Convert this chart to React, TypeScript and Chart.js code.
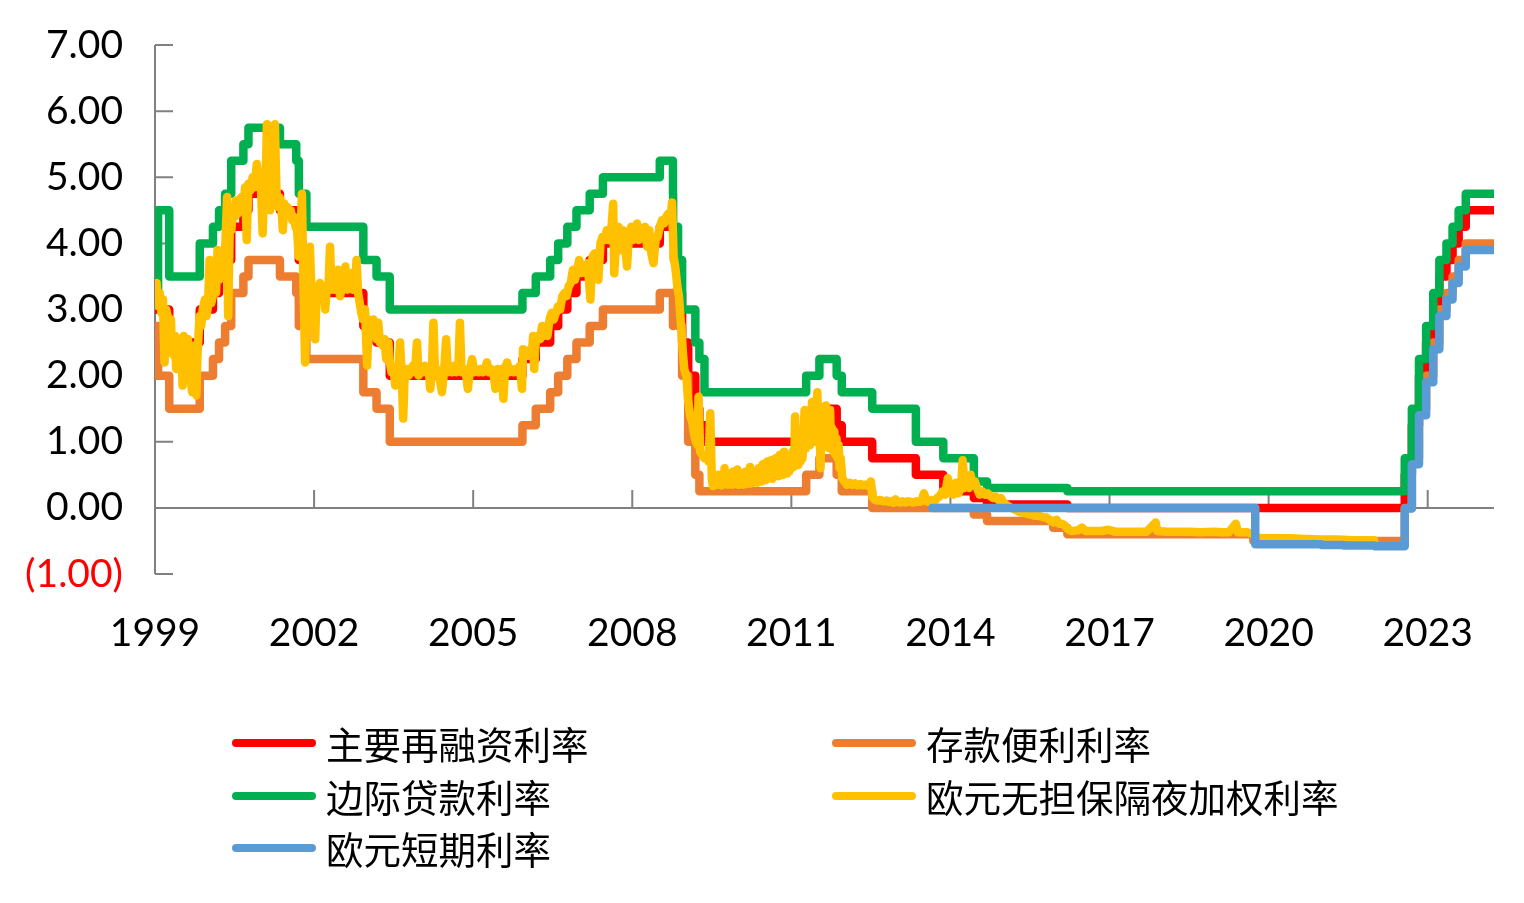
import React, { useEffect, useRef } from "react";
import { Chart, registerables } from "chart.js";

Chart.register(...registerables);

// ---------- axes ----------
const X_MIN = 1999;
const X_MAX = 2024.25;
const Y_MIN = -1;
const Y_MAX = 7;
const X_TICKS = [1999, 2002, 2005, 2008, 2011, 2014, 2017, 2020, 2023];
const Y_TICKS = [-1, 0, 1, 2, 3, 4, 5, 6, 7];
const SERIES_END = "2024-04-01";

// ---------- series names ----------
const NAME_MRO = "主要再融资利率";
const NAME_DF = "存款便利利率";
const NAME_MLF = "边际贷款利率";
const NAME_EONIA = "欧元无担保隔夜加权利率";
const NAME_ESTR = "欧元短期利率";

// ---------- main refinancing rate ----------
const MRO_DATES = [
  "1999-01-01", "1999-04-09", "1999-11-05", "2000-02-04", "2000-03-17", "2000-04-28", "2000-06-09",
  "2000-09-01", "2000-10-06", "2001-05-11", "2001-08-31", "2001-09-18", "2001-11-09", "2002-12-06",
  "2003-03-07", "2003-06-06", "2005-12-06", "2006-03-08", "2006-06-15", "2006-08-09", "2006-10-11",
  "2006-12-13", "2007-03-14", "2007-06-13", "2008-07-09", "2008-10-15", "2008-11-12", "2008-12-10",
  "2009-01-21", "2009-03-11", "2009-04-08", "2009-05-13", "2011-04-13", "2011-07-13", "2011-11-09",
  "2011-12-14", "2012-07-11", "2013-05-08", "2013-11-13", "2014-06-11", "2014-09-10", "2016-03-16",
  "2022-07-27", "2022-09-14", "2022-11-02", "2022-12-21", "2023-02-08", "2023-03-22", "2023-05-10",
  "2023-06-21", "2023-08-02", "2023-09-20",
];
const MRO_RATES = [
  3.0, 2.5, 3.0, 3.25, 3.5, 3.75, 4.25,
  4.5, 4.75, 4.5, 4.25, 3.75, 3.25, 2.75,
  2.5, 2.0, 2.25, 2.5, 2.75, 3.0, 3.25,
  3.5, 3.75, 4.0, 4.25, 3.75, 3.25, 2.5,
  2.0, 1.5, 1.25, 1.0, 1.25, 1.5, 1.25,
  1.0, 0.75, 0.5, 0.25, 0.15, 0.05, 0.0,
  0.5, 1.25, 2.0, 2.5, 3.0, 3.5, 3.75,
  4.0, 4.25, 4.5,
];

// ---------- deposit facility rate ----------
const DF_DATES = [
  "1999-01-01", "1999-01-04", "1999-01-22", "1999-04-09", "1999-11-05", "2000-02-04", "2000-03-17",
  "2000-04-28", "2000-06-09", "2000-09-01", "2000-10-06", "2001-05-11", "2001-08-31", "2001-09-18",
  "2001-11-09", "2002-12-06", "2003-03-07", "2003-06-06", "2005-12-06", "2006-03-08", "2006-06-15",
  "2006-08-09", "2006-10-11", "2006-12-13", "2007-03-14", "2007-06-13", "2008-07-09", "2008-10-08",
  "2008-10-09", "2008-11-12", "2008-12-10", "2009-01-21", "2009-03-11", "2009-04-08", "2011-04-13",
  "2011-07-13", "2011-11-09", "2011-12-14", "2012-07-11", "2014-06-11", "2014-09-10", "2015-12-09",
  "2016-03-16", "2019-09-18", "2022-07-27", "2022-09-14", "2022-11-02", "2022-12-21", "2023-02-08",
  "2023-03-22", "2023-05-10", "2023-06-21", "2023-08-02", "2023-09-20",
];
const DF_RATES = [
  2.0, 2.75, 2.0, 1.5, 2.0, 2.25, 2.5,
  2.75, 3.25, 3.5, 3.75, 3.5, 3.25, 2.75,
  2.25, 1.75, 1.5, 1.0, 1.25, 1.5, 1.75,
  2.0, 2.25, 2.5, 2.75, 3.0, 3.25, 2.75,
  3.25, 2.75, 2.0, 1.0, 0.5, 0.25, 0.5,
  0.75, 0.5, 0.25, 0.0, -0.1, -0.2, -0.3,
  -0.4, -0.5, 0.0, 0.75, 1.5, 2.0, 2.5,
  3.0, 3.25, 3.5, 3.75, 4.0,
];

// ---------- marginal lending facility rate ----------
const MLF_DATES = [
  "1999-01-01", "1999-01-04", "1999-01-22", "1999-04-09", "1999-11-05", "2000-02-04", "2000-03-17",
  "2000-04-28", "2000-06-09", "2000-09-01", "2000-10-06", "2001-05-11", "2001-08-31", "2001-09-18",
  "2001-11-09", "2002-12-06", "2003-03-07", "2003-06-06", "2005-12-06", "2006-03-08", "2006-06-15",
  "2006-08-09", "2006-10-11", "2006-12-13", "2007-03-14", "2007-06-13", "2008-07-09", "2008-10-08",
  "2008-10-09", "2008-11-12", "2008-12-10", "2009-03-11", "2009-04-08", "2009-05-13", "2011-04-13",
  "2011-07-13", "2011-11-09", "2011-12-14", "2012-07-11", "2013-05-08", "2013-11-13", "2014-06-11",
  "2014-09-10", "2016-03-16", "2022-07-27", "2022-09-14", "2022-11-02", "2022-12-21", "2023-02-08",
  "2023-03-22", "2023-05-10", "2023-06-21", "2023-08-02", "2023-09-20",
];
const MLF_RATES = [
  4.5, 3.25, 4.5, 3.5, 4.0, 4.25, 4.5,
  4.75, 5.25, 5.5, 5.75, 5.5, 5.25, 4.75,
  4.25, 3.75, 3.5, 3.0, 3.25, 3.5, 3.75,
  4.0, 4.25, 4.5, 4.75, 5.0, 5.25, 4.75,
  4.25, 3.75, 3.0, 2.5, 2.25, 1.75, 2.0,
  2.25, 2.0, 1.75, 1.5, 1.0, 0.75, 0.4,
  0.3, 0.25, 0.75, 1.5, 2.25, 2.75, 3.25,
  3.75, 4.0, 4.25, 4.5, 4.75,
];

// ---------- euro short-term rate ----------
const ESTR_DATES = [
  "2013-08-29", "2019-10-01", "2020-06-01", "2021-01-01", "2021-06-01", "2022-01-01", "2022-07-27",
  "2022-09-14", "2022-11-02", "2022-12-21", "2023-02-08", "2023-03-22", "2023-05-10", "2023-06-21",
  "2023-08-02", "2023-09-20",
];
const ESTR_RATES = [
  0.0, -0.55, -0.55, -0.56, -0.57, -0.58, -0.01,
  0.66, 1.4, 1.9, 2.4, 2.9, 3.15, 3.4,
  3.65, 3.9,
];

// ---------- EONIA (decimal year, rate) ----------
const EONIA_POINTS: [number, number][] = [
  [1999.0, 3.2], [1999.03, 3.4], [1999.06, 3.05], [1999.09, 3.25], [1999.12, 2.95], [1999.15, 3.15],
  [1999.18, 2.2], [1999.21, 3.0], [1999.24, 2.9], [1999.27, 2.35], [1999.3, 2.85], [1999.32, 2.4],
  [1999.34, 2.55], [1999.36, 2.3], [1999.38, 2.6], [1999.4, 2.1], [1999.42, 2.5], [1999.44, 2.3],
  [1999.46, 2.55], [1999.48, 2.2], [1999.5, 2.45], [1999.52, 1.85], [1999.54, 2.6], [1999.56, 2.3],
  [1999.58, 2.5], [1999.6, 2.1], [1999.62, 2.55], [1999.64, 2.2], [1999.66, 2.45], [1999.68, 1.9],
  [1999.7, 1.75], [1999.72, 2.45], [1999.74, 2.1], [1999.76, 2.35], [1999.78, 1.7], [1999.8, 2.3],
  [1999.82, 2.6], [1999.84, 2.9], [1999.87, 2.75], [1999.9, 3.0], [1999.94, 3.15], [1999.97, 2.9],
  [2000.0, 3.05], [2000.03, 3.75], [2000.06, 3.1], [2000.09, 3.2], [2000.12, 3.3], [2000.15, 3.25],
  [2000.18, 3.9], [2000.21, 3.45], [2000.24, 3.55], [2000.27, 3.7], [2000.3, 3.6], [2000.33, 4.05],
  [2000.36, 4.7], [2000.38, 2.9], [2000.41, 4.3], [2000.44, 4.2], [2000.47, 4.55], [2000.5, 4.4],
  [2000.53, 4.65], [2000.56, 4.45], [2000.59, 4.6], [2000.63, 4.7], [2000.67, 4.55], [2000.7, 4.85],
  [2000.73, 4.05], [2000.76, 4.9], [2000.8, 4.8], [2000.84, 5.0], [2000.88, 4.85], [2000.92, 5.2],
  [2000.96, 4.9],
  [2001.0, 4.8], [2001.03, 4.15], [2001.06, 4.9], [2001.09, 5.0], [2001.11, 5.8], [2001.14, 4.85],
  [2001.17, 4.5], [2001.2, 4.9], [2001.23, 4.75], [2001.26, 5.8], [2001.29, 4.8], [2001.32, 4.55],
  [2001.35, 4.7], [2001.38, 4.6], [2001.41, 4.2], [2001.44, 4.6], [2001.47, 4.5], [2001.5, 4.55],
  [2001.53, 4.45], [2001.56, 4.5], [2001.59, 4.35], [2001.62, 4.4], [2001.65, 4.25], [2001.68, 4.2],
  [2001.71, 3.8], [2001.74, 3.95], [2001.77, 4.75], [2001.8, 3.4], [2001.83, 2.2], [2001.86, 3.3],
  [2001.89, 3.2], [2001.92, 3.95], [2001.95, 3.3], [2001.98, 3.35],
  [2002.02, 2.55], [2002.05, 3.3], [2002.08, 3.25], [2002.11, 3.4], [2002.14, 3.3], [2002.18, 3.35],
  [2002.21, 3.0], [2002.24, 3.35], [2002.27, 3.3], [2002.3, 3.95], [2002.33, 3.3], [2002.36, 3.35],
  [2002.39, 3.3], [2002.42, 3.35], [2002.45, 3.6], [2002.49, 3.2], [2002.52, 3.35], [2002.55, 3.3],
  [2002.59, 3.65], [2002.62, 3.3], [2002.66, 3.35], [2002.7, 3.55], [2002.73, 3.3], [2002.77, 3.3],
  [2002.8, 3.75], [2002.83, 3.25], [2002.86, 3.1], [2002.89, 2.95], [2002.92, 2.85], [2002.96, 3.0],
  [2003.0, 2.15], [2003.03, 2.85], [2003.06, 2.8], [2003.09, 2.75], [2003.12, 2.85], [2003.15, 2.7],
  [2003.18, 2.55], [2003.21, 2.8], [2003.24, 2.5], [2003.27, 2.55], [2003.3, 2.45], [2003.33, 2.55],
  [2003.36, 2.25], [2003.4, 2.5], [2003.43, 2.2], [2003.46, 2.05], [2003.5, 2.1], [2003.53, 1.85],
  [2003.56, 2.05], [2003.59, 2.1], [2003.62, 2.5], [2003.65, 2.05], [2003.68, 1.35], [2003.71, 2.05],
  [2003.74, 2.1], [2003.78, 2.0], [2003.82, 2.05], [2003.86, 2.15], [2003.9, 2.05], [2003.94, 2.5],
  [2003.97, 2.0],
  [2004.01, 2.1], [2004.05, 2.05], [2004.09, 2.15], [2004.13, 2.05], [2004.16, 2.1], [2004.19, 1.8],
  [2004.22, 2.05], [2004.25, 2.8], [2004.28, 2.05], [2004.32, 2.1], [2004.36, 2.0], [2004.41, 1.75],
  [2004.45, 2.05], [2004.49, 2.55], [2004.52, 2.05], [2004.56, 2.1], [2004.6, 2.05], [2004.64, 2.15],
  [2004.68, 2.05], [2004.72, 2.1], [2004.75, 2.8], [2004.78, 2.05], [2004.82, 2.1], [2004.86, 2.05],
  [2004.9, 1.8], [2004.94, 2.1], [2004.98, 2.25],
  [2005.02, 2.05], [2005.06, 2.1], [2005.1, 2.05], [2005.14, 2.1], [2005.18, 2.05], [2005.22, 2.1],
  [2005.26, 2.2], [2005.3, 2.05], [2005.34, 2.1], [2005.38, 2.05], [2005.42, 1.8], [2005.46, 2.1],
  [2005.5, 2.05], [2005.54, 2.1], [2005.57, 1.65], [2005.6, 2.1], [2005.64, 2.2], [2005.68, 2.05],
  [2005.72, 2.1], [2005.76, 2.05], [2005.8, 2.1], [2005.84, 2.05], [2005.88, 2.15], [2005.92, 1.8],
  [2005.94, 2.4], [2005.97, 2.3],
  [2006.0, 2.35], [2006.04, 2.3], [2006.08, 2.4], [2006.11, 2.35], [2006.13, 2.6], [2006.15, 2.1],
  [2006.18, 2.55], [2006.22, 2.6], [2006.26, 2.55], [2006.3, 2.75], [2006.33, 2.6], [2006.36, 2.65],
  [2006.4, 2.6], [2006.44, 2.85], [2006.48, 2.95], [2006.52, 2.85], [2006.56, 2.95], [2006.6, 3.05],
  [2006.64, 3.0], [2006.68, 3.2], [2006.72, 3.25], [2006.76, 3.2], [2006.8, 3.35], [2006.84, 3.4],
  [2006.88, 3.6], [2006.92, 3.45], [2006.96, 3.6],
  [2007.0, 3.75], [2007.04, 3.55], [2007.08, 3.6], [2007.12, 3.55], [2007.16, 3.7], [2007.21, 3.15],
  [2007.25, 3.8], [2007.29, 3.85], [2007.32, 3.8], [2007.36, 3.45], [2007.4, 4.0], [2007.44, 4.1],
  [2007.48, 4.05], [2007.52, 4.2], [2007.56, 4.05], [2007.6, 4.15], [2007.64, 4.6], [2007.66, 3.55],
  [2007.7, 4.1], [2007.74, 4.25], [2007.78, 3.9], [2007.82, 4.2], [2007.86, 4.05], [2007.9, 3.65],
  [2007.94, 4.15], [2007.98, 4.25],
  [2008.02, 4.05], [2008.06, 4.2], [2008.09, 4.3], [2008.12, 4.05], [2008.16, 4.2], [2008.2, 4.1],
  [2008.24, 4.25], [2008.28, 3.95], [2008.32, 4.2], [2008.36, 3.85], [2008.4, 3.7], [2008.44, 4.05],
  [2008.48, 4.1], [2008.52, 4.25], [2008.56, 4.35], [2008.6, 4.3], [2008.64, 4.4], [2008.68, 4.45],
  [2008.72, 4.35], [2008.75, 4.62], [2008.78, 3.8], [2008.81, 3.65], [2008.85, 3.35], [2008.88, 3.2],
  [2008.92, 2.75], [2008.95, 2.4], [2008.98, 2.1],
  [2009.02, 2.0], [2009.05, 1.65], [2009.09, 1.4], [2009.13, 1.3], [2009.17, 1.1], [2009.2, 1.0],
  [2009.23, 0.95], [2009.25, 1.68], [2009.28, 0.85], [2009.32, 0.8], [2009.36, 0.75], [2009.4, 0.8],
  [2009.44, 0.7], [2009.47, 1.43], [2009.5, 0.45], [2009.52, 0.33], [2009.54, 0.4], [2009.56, 0.34],
  [2009.58, 0.45], [2009.6, 0.36], [2009.62, 0.5], [2009.64, 0.35], [2009.66, 0.42], [2009.68, 0.34],
  [2009.7, 0.48], [2009.72, 0.38], [2009.74, 0.6], [2009.76, 0.36], [2009.78, 0.44], [2009.8, 0.35],
  [2009.82, 0.52], [2009.84, 0.37], [2009.86, 0.45], [2009.88, 0.35], [2009.9, 0.55], [2009.92, 0.36],
  [2009.94, 0.48], [2009.96, 0.38], [2009.98, 0.58],
  [2010.0, 0.35], [2010.02, 0.45], [2010.04, 0.36], [2010.06, 0.52], [2010.08, 0.35], [2010.1, 0.44],
  [2010.12, 0.37], [2010.14, 0.55], [2010.16, 0.36], [2010.18, 0.46], [2010.2, 0.38], [2010.22, 0.62],
  [2010.24, 0.37], [2010.26, 0.48], [2010.28, 0.38], [2010.3, 0.55], [2010.32, 0.4], [2010.34, 0.5],
  [2010.36, 0.38], [2010.38, 0.6], [2010.4, 0.42], [2010.42, 0.55], [2010.44, 0.4], [2010.46, 0.66],
  [2010.48, 0.45], [2010.5, 0.58], [2010.52, 0.42], [2010.54, 0.7], [2010.56, 0.45], [2010.58, 0.62],
  [2010.6, 0.46], [2010.62, 0.72], [2010.64, 0.44], [2010.66, 0.6], [2010.68, 0.48], [2010.7, 0.75],
  [2010.72, 0.5], [2010.74, 0.66], [2010.76, 0.48], [2010.78, 0.8], [2010.8, 0.52], [2010.82, 0.7],
  [2010.84, 0.5], [2010.86, 0.85], [2010.88, 0.55], [2010.9, 0.72], [2010.92, 0.52], [2010.94, 0.8],
  [2010.96, 0.55], [2010.98, 0.75],
  [2011.0, 0.6], [2011.02, 0.85], [2011.04, 0.62], [2011.06, 0.95], [2011.07, 1.38], [2011.09, 0.7],
  [2011.11, 0.9], [2011.13, 0.65], [2011.15, 1.0], [2011.17, 0.7], [2011.19, 0.95], [2011.21, 0.75],
  [2011.23, 1.1], [2011.25, 1.48], [2011.27, 0.9], [2011.29, 1.15], [2011.31, 0.95], [2011.33, 1.3],
  [2011.35, 0.95], [2011.37, 1.2], [2011.39, 1.6], [2011.41, 1.05], [2011.43, 1.3], [2011.45, 1.0],
  [2011.47, 1.4], [2011.49, 1.75], [2011.51, 1.1], [2011.53, 1.3], [2011.55, 0.6], [2011.57, 1.2],
  [2011.59, 0.95], [2011.61, 1.4], [2011.63, 1.0], [2011.65, 1.55], [2011.67, 0.95], [2011.69, 1.25],
  [2011.71, 0.9], [2011.73, 1.48], [2011.75, 0.95], [2011.77, 1.2], [2011.79, 0.85], [2011.81, 1.15],
  [2011.83, 0.8], [2011.85, 1.05], [2011.87, 0.75], [2011.89, 0.95], [2011.91, 0.6], [2011.93, 0.75],
  [2011.96, 0.45],
  [2012.0, 0.4], [2012.05, 0.35], [2012.1, 0.38], [2012.15, 0.35], [2012.2, 0.37], [2012.25, 0.34],
  [2012.3, 0.36], [2012.35, 0.34], [2012.4, 0.35], [2012.45, 0.33], [2012.5, 0.4], [2012.53, 0.16],
  [2012.58, 0.12], [2012.63, 0.11], [2012.68, 0.12], [2012.72, 0.1], [2012.76, 0.1], [2012.8, 0.11],
  [2012.84, 0.09], [2012.88, 0.1], [2012.92, 0.08], [2012.96, 0.13],
  [2013.0, 0.09], [2013.05, 0.08], [2013.1, 0.1], [2013.15, 0.08], [2013.2, 0.1], [2013.25, 0.09],
  [2013.3, 0.08], [2013.35, 0.1], [2013.4, 0.09], [2013.45, 0.1], [2013.5, 0.22], [2013.55, 0.1],
  [2013.6, 0.09], [2013.65, 0.12], [2013.7, 0.1], [2013.75, 0.15], [2013.8, 0.18], [2013.85, 0.25],
  [2013.9, 0.2], [2013.95, 0.45],
  [2014.0, 0.25], [2014.05, 0.2], [2014.1, 0.38], [2014.15, 0.22], [2014.2, 0.3], [2014.23, 0.72],
  [2014.27, 0.3], [2014.31, 0.4], [2014.35, 0.3], [2014.38, 0.5], [2014.42, 0.35], [2014.46, 0.4],
  [2014.5, 0.3], [2014.55, 0.2], [2014.6, 0.25], [2014.65, 0.2], [2014.7, 0.22], [2014.75, 0.18],
  [2014.8, 0.15], [2014.85, 0.17], [2014.9, 0.12], [2014.95, 0.15],
  [2015.0, 0.08], [2015.05, 0.05], [2015.1, 0.02], [2015.15, 0.0], [2015.2, -0.02], [2015.25, -0.04],
  [2015.3, -0.06], [2015.35, -0.07], [2015.4, -0.08], [2015.45, -0.09], [2015.5, -0.1], [2015.55, -0.11],
  [2015.6, -0.12], [2015.65, -0.12], [2015.7, -0.13], [2015.75, -0.14], [2015.8, -0.14], [2015.85, -0.17],
  [2015.9, -0.2], [2015.95, -0.22],
  [2016.0, -0.18], [2016.05, -0.24], [2016.1, -0.24], [2016.15, -0.26], [2016.2, -0.31], [2016.25, -0.34],
  [2016.3, -0.35], [2016.4, -0.34], [2016.48, -0.3], [2016.55, -0.35], [2016.7, -0.35], [2016.85, -0.35],
  [2016.98, -0.33],
  [2017.1, -0.36], [2017.3, -0.36], [2017.5, -0.36], [2017.7, -0.36], [2017.87, -0.22], [2017.9, -0.35],
  [2018.1, -0.36], [2018.3, -0.36], [2018.5, -0.36], [2018.7, -0.37], [2018.98, -0.36],
  [2019.1, -0.37], [2019.25, -0.37], [2019.38, -0.24], [2019.42, -0.37], [2019.6, -0.37], [2019.71, -0.4],
  [2019.76, -0.45], [2019.9, -0.46],
  [2020.1, -0.46], [2020.4, -0.46], [2020.7, -0.47],
  [2021.0, -0.48], [2021.3, -0.48], [2021.6, -0.49], [2021.9, -0.49], [2021.99, -0.49],
];

// ---------- colours ----------
const C_RED = "#FF0000";
const C_ORANGE = "#ED7D31";
const C_GREEN = "#00B050";
const C_YELLOW = "#FFC000";
const C_BLUE = "#5B9BD5";
const C_AXIS = "#808080";

const TICK_FONT = "Lato";
const CJK_FONT = "'Noto Sans CJK SC', 'Noto Sans', sans-serif";

function toYear(s: string): number {
  const [y, m, d] = s.split("-").map(Number);
  const start = Date.UTC(y, 0, 1);
  const next = Date.UTC(y + 1, 0, 1);
  return y + (Date.UTC(y, m - 1, d) - start) / (next - start);
}

function stepSeries(dates: string[], rates: number[]) {
  const pts = dates.map((d, i) => ({ x: toYear(d), y: rates[i] }));
  pts.push({ x: toYear(SERIES_END), y: rates[rates.length - 1] });
  return pts;
}

function fmtY(v: number): string {
  return v < 0 ? `(${Math.abs(v).toFixed(2)})` : v.toFixed(2);
}

const axisPlugin = {
  id: "excelAxes",
  beforeDatasetsDraw(chart: any) {
    const { ctx, chartArea, scales } = chart;
    const xs = scales.x;
    const ys = scales.y;
    const left = chartArea.left;
    const y0 = ys.getPixelForValue(0);
    ctx.save();
    ctx.strokeStyle = C_AXIS;
    ctx.lineWidth = 2;
    ctx.beginPath();
    ctx.moveTo(left, ys.getPixelForValue(Y_MAX));
    ctx.lineTo(left, ys.getPixelForValue(Y_MIN));
    Y_TICKS.forEach((v) => {
      const py = ys.getPixelForValue(v);
      ctx.moveTo(left, py);
      ctx.lineTo(left + 18, py);
    });
    ctx.moveTo(left, y0);
    ctx.lineTo(chartArea.right, y0);
    X_TICKS.forEach((v) => {
      const px = xs.getPixelForValue(v);
      ctx.moveTo(px, y0);
      ctx.lineTo(px, y0 - 18);
    });
    ctx.stroke();
    ctx.restore();
  },
};

const LEGEND_ITEMS = [
  { label: NAME_MRO, color: C_RED, col: 0, row: 0 },
  { label: NAME_DF, color: C_ORANGE, col: 1, row: 0 },
  { label: NAME_MLF, color: C_GREEN, col: 0, row: 1 },
  { label: NAME_EONIA, color: C_YELLOW, col: 1, row: 1 },
  { label: NAME_ESTR, color: C_BLUE, col: 0, row: 2 },
];

export default function App() {
  const ref = useRef<HTMLCanvasElement>(null);

  useEffect(() => {
    if (!ref.current) return;
    const line = (label: string, data: any, color: string, order: number, stepped: boolean) => ({
      label,
      data,
      borderColor: color,
      backgroundColor: color,
      borderWidth: 8.5,
      stepped: stepped ? "before" : false,
      order,
      pointRadius: 0,
      fill: false,
    });
    const chart = new Chart(ref.current, {
      type: "line",
      data: {
        datasets: [
          line(NAME_MRO, stepSeries(MRO_DATES, MRO_RATES), C_RED, 5, true),
          line(NAME_DF, stepSeries(DF_DATES, DF_RATES), C_ORANGE, 4, true),
          line(NAME_MLF, stepSeries(MLF_DATES, MLF_RATES), C_GREEN, 3, true),
          line(NAME_EONIA, EONIA_POINTS.map(([x, y]) => ({ x, y })), C_YELLOW, 2, false),
          line(NAME_ESTR, stepSeries(ESTR_DATES, ESTR_RATES), C_BLUE, 1, true),
        ] as any,
      },
      options: {
        animation: false,
        responsive: false,
        devicePixelRatio: 1,
        events: [],
        layout: { padding: { top: 45, right: 30, left: 0, bottom: 0 } },
        elements: {
          point: { radius: 0, hoverRadius: 0 },
          line: { borderJoinStyle: "round", borderCapStyle: "round", tension: 0 },
        },
        plugins: { legend: { display: false }, tooltip: { enabled: false } },
        scales: {
          x: {
            type: "linear",
            min: X_MIN,
            max: X_MAX,
            afterBuildTicks: (s: any) => {
              s.ticks = X_TICKS.map((v) => ({ value: v }));
            },
            afterFit: (s: any) => {
              s.height = 329;
              s.paddingLeft = 0;
              s.paddingRight = 0;
            },
            grid: { display: false, drawTicks: false },
            border: { display: false },
            ticks: {
              autoSkip: false,
              maxRotation: 0,
              padding: 36,
              color: "#000",
              font: { family: TICK_FONT, size: 39 },
              callback: (v: any) => String(v),
            },
          },
          y: {
            type: "linear",
            min: Y_MIN,
            max: Y_MAX,
            afterBuildTicks: (s: any) => {
              s.ticks = Y_TICKS.map((v) => ({ value: v }));
            },
            afterFit: (s: any) => {
              s.width = 155;
              s.paddingTop = 0;
              s.paddingBottom = 0;
            },
            grid: { display: false, drawTicks: false },
            border: { display: false },
            ticks: {
              padding: 32,
              color: (c: any) => (c.tick && c.tick.value < 0 ? C_RED : "#000"),
              font: { family: TICK_FONT, size: 39 },
              callback: (v: any) => fmtY(Number(v)),
            },
          },
        },
      } as any,
      plugins: [axisPlugin],
    });
    return () => chart.destroy();
  }, []);

  return (
    <div style={{ position: "absolute", left: 0, top: 0, width: 1524, height: 903, background: "#fff" }}>
      <canvas ref={ref} width={1524} height={903} style={{ display: "block" }} />
      {LEGEND_ITEMS.map((it) => (
        <div
          key={it.label}
          style={{
            position: "absolute",
            left: it.col === 0 ? 232 : 832,
            top: 743 + it.row * 52.5 - 25,
            height: 50,
            display: "flex",
            alignItems: "center",
            whiteSpace: "nowrap",
          }}
        >
          <div style={{ width: 84, height: 8, borderRadius: 4, background: it.color }} />
          <span
            style={{
              marginLeft: 10,
              fontFamily: CJK_FONT,
              fontSize: 37.5,
              lineHeight: 1,
              color: "#000",
            }}
          >
            {it.label}
          </span>
        </div>
      ))}
    </div>
  );
}
